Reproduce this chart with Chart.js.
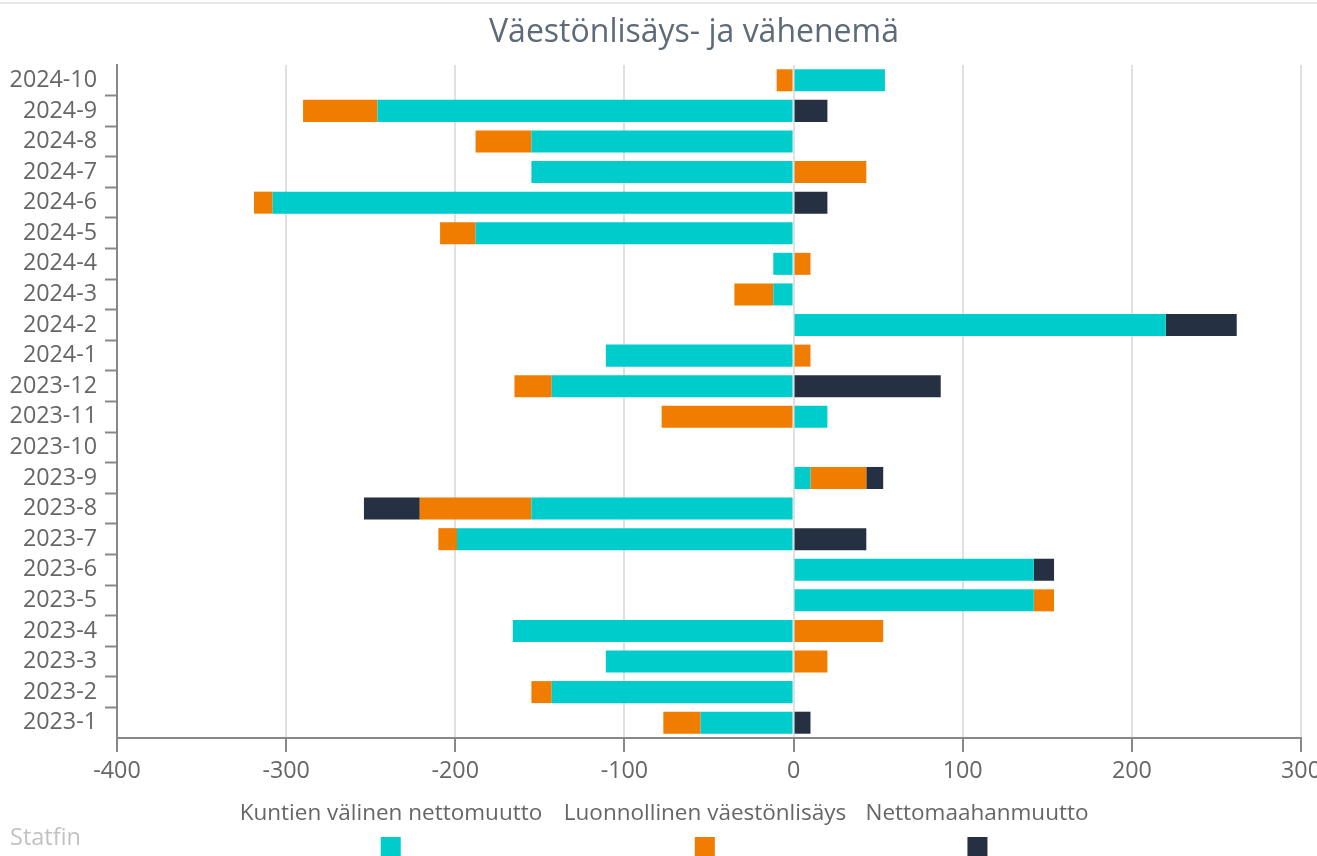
<!DOCTYPE html>
<html>
<head>
<meta charset="utf-8">
<script src="https://cdn.jsdelivr.net/npm/chart.js@4"></script>
<style>
  html, body { margin: 0; padding: 0; background: #fff; overflow: hidden; }
  #wrap { position: relative; width: 1388px; height: 856px; }
  #topline { position: absolute; left: 0; top: 2px; width: 1317px; height: 2px; background: #e8e8e8; }
  #chartBox { position: absolute; left: 0; top: 0; width: 1388px; height: 856px; }
  .leg { position: absolute; top: 797px; transform: translateX(-50%); display: flex; flex-direction: column; align-items: center;
         font-family: 'Open Sans', sans-serif; font-size: 22.5px; color: #666; white-space: nowrap; line-height: 30px; }
  .leg span.box { display: block; width: 20px; height: 20px; margin-top: 10px; }
  #src { position: absolute; left: 10px; top: 820px; font-family: 'Open Sans', sans-serif; font-size: 23.5px; color: #c2c2c2; line-height: 32px; }
</style>
</head>
<body>
<div id="wrap">
  <div id="topline"></div>
  <div id="chartBox"><canvas id="c"></canvas></div>
  <div id="legend"></div>
  <div id="src">Statfin</div>
</div>
<script>
const titleText = 'Väestönlisäys- ja vähenemä';
const categories = ['2024-10','2024-9','2024-8','2024-7','2024-6','2024-5','2024-4','2024-3','2024-2','2024-1',
  '2023-12','2023-11','2023-10','2023-9','2023-8','2023-7','2023-6','2023-5','2023-4','2023-3','2023-2','2023-1'];
const seriesNames = ['Kuntien välinen nettomuutto', 'Luonnollinen väestönlisäys', 'Nettomaahanmuutto'];
const seriesColors = ['#00cccc', '#f07d00', '#253142'];
const kuntienValinen = [54,-246,-155,-155,-308,-188,-12,-12,220,-111,-143,20,0,10,-155,-199,142,142,-166,-111,-143,-55];
const luonnollinen  = [-10,-44,-33,43,-11,-21,10,-23,0,10,-22,-78,0,33,-66,-11,0,12,53,20,-12,-22];
const nettomaahan   = [0,20,0,0,20,0,0,0,42,0,87,0,0,10,-33,43,12,0,0,0,0,10];
const xTicks = [-400,-300,-200,-100,0,100,200,300];

const seriesValues = [kuntienValinen, luonnollinen, nettomaahan];
const datasets = seriesNames.map((name, i) => ({
  label: name,
  data: seriesValues[i].map(v => v === 0 ? null : v),
  backgroundColor: seriesColors[i],
  borderWidth: 0,
  categoryPercentage: 1.0,
  barPercentage: 0.72
}));

const FONT = "'Open Sans', sans-serif";
const chart = new Chart(document.getElementById('c'), {
  type: 'bar',
  data: { labels: categories, datasets },
  options: {
    indexAxis: 'y',
    responsive: true,
    maintainAspectRatio: false,
    animation: false,
    layout: { padding: { left: 0, top: 0, right: 0, bottom: 58 } },
    plugins: {
      legend: { display: false },
      tooltip: { enabled: false },
      title: {
        display: true,
        text: titleText,
        color: '#5d6b79',
        font: { family: FONT, size: 32, weight: 'normal' },
        padding: { top: 14, bottom: 12.6 }
      }
    },
    scales: {
      x: {
        type: 'linear',
        stacked: true,
        min: -400,
        max: 300,
        afterBuildTicks: s => { s.ticks = xTicks.map(v => ({ value: v })); },
        afterFit: s => { s.height = 60; },
        ticks: { color: '#666', font: { family: FONT, size: 23.3 }, padding: 5, maxRotation: 0 },
        grid: { color: '#e0e0e0', lineWidth: 2, tickColor: '#888', tickLength: 14, tickWidth: 2 },
        border: { display: true, color: '#888', width: 2 }
      },
      y: {
        type: 'category',
        stacked: true,
        afterFit: s => { s.width = 117; },
        ticks: { color: '#666', font: { family: FONT, size: 23.3 }, padding: 8, autoSkip: false },
        grid: {
          offset: true,
          drawOnChartArea: false,
          tickLength: 12,
          tickWidth: 2,
          tickColor: ctx => (ctx.index === undefined || ctx.index === 0) ? 'rgba(0,0,0,0)' : '#888'
        },
        border: { display: true, color: '#888', width: 2 }
      },
      rightSpace: {
        type: 'linear',
        position: 'right',
        display: true,
        afterFit: s => { s.width = 87; },
        ticks: { display: false },
        grid: { display: false, drawTicks: false },
        border: { display: false }
      }
    }
  }
});

// HTML legend built from the chart's datasets: label above, colour box below
const legendCenters = [391, 705, 977];
const legendEl = document.getElementById('legend');
chart.data.datasets.forEach((ds, i) => {
  const item = document.createElement('div');
  item.className = 'leg';
  item.style.left = legendCenters[i] + 'px';
  const t = document.createElement('span');
  t.textContent = ds.label;
  const b = document.createElement('span');
  b.className = 'box';
  b.style.background = ds.backgroundColor;
  item.appendChild(t);
  item.appendChild(b);
  legendEl.appendChild(item);
});
</script>
</body>
</html>
